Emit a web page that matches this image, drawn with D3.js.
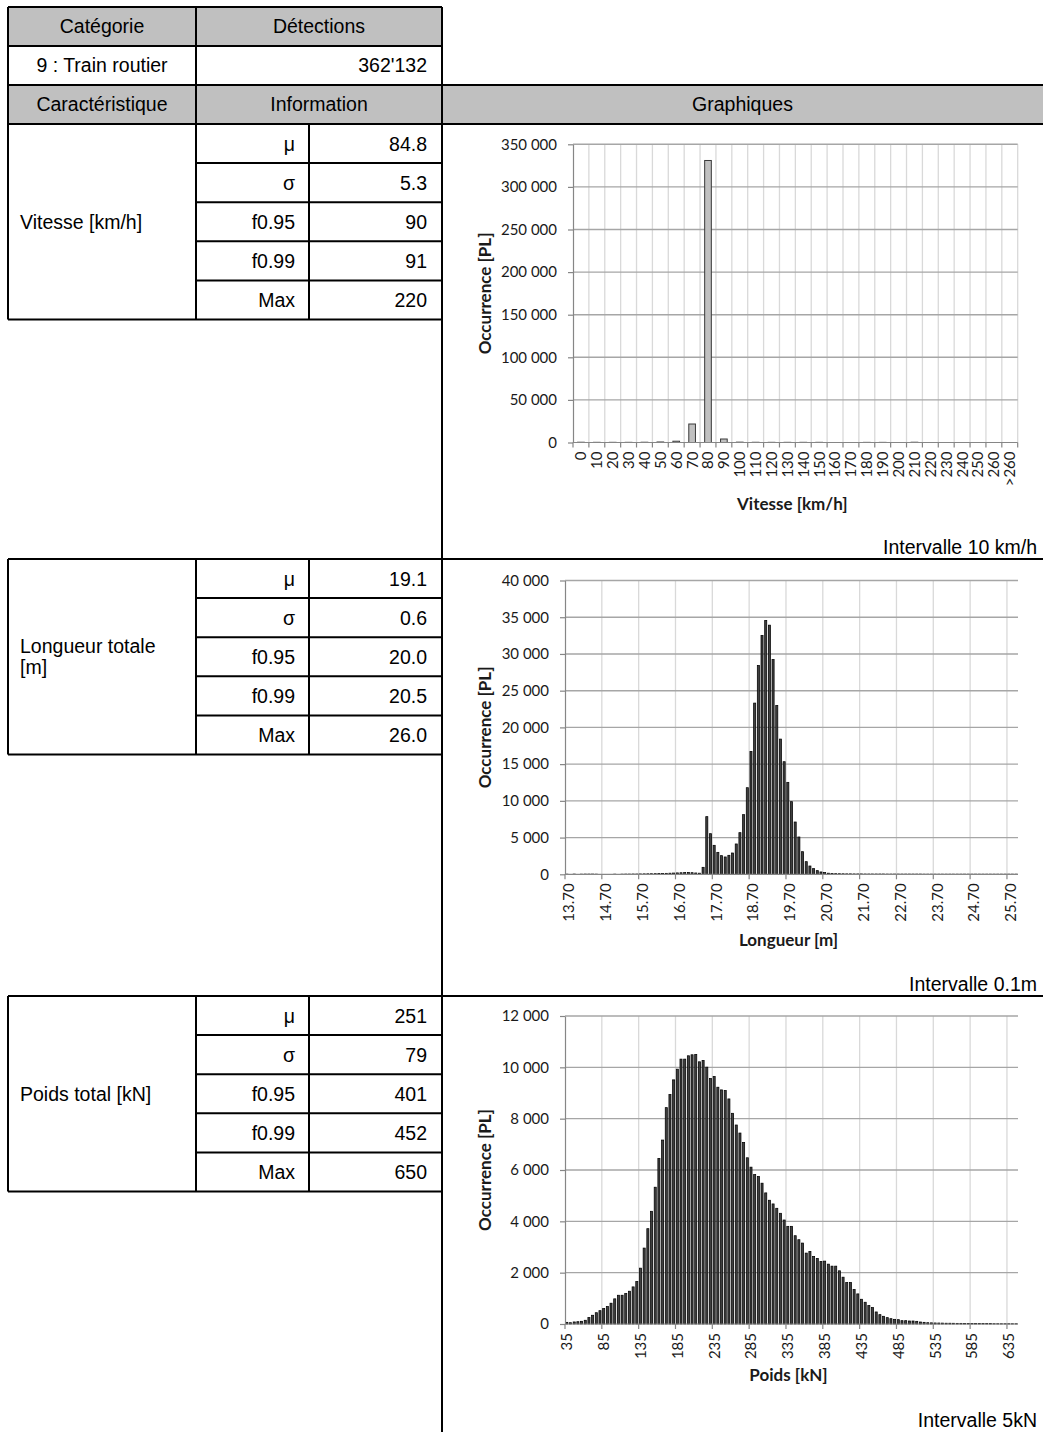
<!DOCTYPE html>
<html><head><meta charset="utf-8">
<script src="https://cdn.jsdelivr.net/npm/d3@7"></script>
<style>body{margin:0;background:#fff} svg{display:block}</style>
</head><body>
<svg id="c" width="1043" height="1432"></svg>
<script>
// ---------- DATA ----------
const headerCategory = "Catégorie";
const headerDetections = "Détections";
const categoryName = "9 : Train routier";
const detections = "362'132";
const headerCharac = "Caractéristique";
const headerInfo = "Information";
const headerGraph = "Graphiques";
const statLabels = ["μ","σ","f0.95","f0.99","Max"];
const sectionNames = [["Vitesse [km/h]"],["Longueur totale","[m]"],["Poids total [kN]"]];
const speedStats = ["84.8","5.3","90","91","220"];
const lengthStats = ["19.1","0.6","20.0","20.5","26.0"];
const weightStats = ["251","79","401","452","650"];
const intervals = ["Intervalle 10 km/h","Intervalle 0.1m","Intervalle 5kN"];

const speedCats = ["0","10","20","30","40","50","60","70","80","90","100","110","120","130","140","150","160","170","180","190","200","210","220","230","240","250","260",">260"];
const speedValues = [300,200,200,200,300,600,1500,21700,331000,4100,400,250,200,200,200,200,0,0,150,150,0,300,0,0,0,0,0,0];
const speedYTicks = [0,50000,100000,150000,200000,250000,300000,350000];

// length bins of 0.1 m starting at 13.70 (123 bins)
const lengthValues = [20,0,30,0,20,30,30,30,20,0,
  0,0,0,20,0,20,30,30,40,40,
  50,60,70,80,90,100,110,130,150,170,
  190,210,230,240,220,180,150,950,7850,5530,
  3945,2990,2540,2360,2585,2900,4130,5670,8120,11790,
  16730,23310,28430,32520,34560,33920,29250,22990,18410,15330,
  12520,9890,7120,5080,3080,1720,1130,770,500,320,
  230,150,110,90,80,70,60,60,50,50,
  50,40,40,40,40,40,40,30,30,30,
  30,30,30,30,30,30,30,20,20,20,
  20,20,20,20,20,20,20,20,20,20,
  20,20,20,20,20,20,20,20,20,20,
  20,20,20];
const lengthTickLabels = ["13.70","14.70","15.70","16.70","17.70","18.70","19.70","20.70","21.70","22.70","23.70","24.70","25.70"];
const lengthYTicks = [0,5000,10000,15000,20000,25000,30000,35000,40000];

// weight bins of 5 kN starting at 35 (123 bins)
const weightValues = [65,50,80,90,105,145,250,340,440,520,
  600,680,810,980,1120,1120,1185,1277,1446,1655,
  2176,2958,3714,4391,5329,6450,7167,8430,8939,9512,
  9929,10320,10320,10450,10489,10502,10215,10268,10007,9564,
  9642,9225,9121,9095,8769,8209,7753,7440,7075,6476,
  6111,5824,5746,5486,5108,4821,4678,4508,4313,4052,
  3805,3805,3440,3284,3153,2762,2827,2632,2554,2437,
  2450,2332,2254,2254,2072,1824,1616,1616,1342,1173,
  964,847,717,638,469,365,300,248,208,182,
  169,130,130,117,117,104,78,65,50,45,
  40,38,35,30,30,28,25,25,22,20,
  20,18,18,15,15,15,12,12,10,10,
  10,10,10];
const weightTickLabels = ["35","85","135","185","235","285","335","385","435","485","535","585","635"];
const weightYTicks = [0,2000,4000,6000,8000,10000,12000];

const yTitle = "Occurrence [PL]";
const xTitles = ["Vitesse [km/h]","Longueur [m]","Poids [kN]"];

// ---------- LAYOUT ----------
const svg = d3.select("#c");
const TF = "'Liberation Sans', Arial, sans-serif";
const CF = "Lato, 'Open Sans', sans-serif";
const TS = 19.5;
const L = 8, C1 = 196, C2 = 309, C3 = 442, R = 1043;
const rowH = 39.1;
const sectionTops = [124, 559, 996];
const sectionBottoms = [559, 996, 1432];

function ln(x1,y1,x2,y2,w){
  svg.append("line").attr("x1",x1).attr("y1",y1).attr("x2",x2).attr("y2",y2)
    .attr("stroke","#000").attr("stroke-width",w||2);
}
function txt(x,y,s,anchor,opts){
  opts = opts||{};
  return svg.append("text").attr("x",x).attr("y",y).text(s)
    .attr("text-anchor",anchor||"start")
    .attr("font-family",opts.font||TF)
    .attr("font-size",opts.size||TS)
    .attr("font-weight",opts.weight||"normal")
    .attr("fill",opts.fill||"#000");
}

// gray header fills
svg.append("rect").attr("x",L).attr("y",7).attr("width",C3-L).attr("height",39).attr("fill","#c0c0c0");
svg.append("rect").attr("x",L).attr("y",85).attr("width",R-L).attr("height",39).attr("fill","#c0c0c0");

// header texts
txt((L+C1)/2, 33, headerCategory, "middle");
txt((C1+C3)/2, 33, headerDetections, "middle");
txt((L+C1)/2, 72, categoryName, "middle");
txt(427, 72, detections, "end");
txt((L+C1)/2, 111, headerCharac, "middle");
txt((C1+C3)/2, 111, headerInfo, "middle");
txt((C3+R)/2, 111, headerGraph, "middle");

// header lines
ln(L,7,C3,7); ln(L,46,C3,46); ln(L,85,R,85); ln(L,124,R,124);
ln(L,7,L,124); ln(C1,7,C1,124); ln(C3,7,C3,1432);

const allStats = [speedStats, lengthStats, weightStats];
sectionTops.forEach((T,s)=>{
  const B = T + 5*rowH;
  if (s>0) ln(L,T,R,T);
  ln(L,B,C3,B);
  ln(L,T,L,B); ln(C1,T,C1,B); ln(C2,T,C2,B);
  for (let k=1;k<5;k++) ln(C1,T+k*rowH,C3,T+k*rowH);
  statLabels.forEach((lab,k)=>{
    const cy = T + (k+0.5)*rowH + 7;
    txt(295, cy, lab, "end");
    txt(427, cy, allStats[s][k], "end");
  });
  const names = sectionNames[s];
  const mid = T + 2.5*rowH;
  names.forEach((n,j)=>{
    const by = mid + 7 + (j - (names.length-1)/2)*21;
    txt(20, by, n, "start");
  });
  txt(1037, sectionBottoms[s]-5, intervals[s], "end");
});

// ---------- CHARTS ----------
const fmtLocale = d3.formatLocale({decimal:".", thousands:"\u00a0", grouping:[3], currency:["",""]});
const fmt = fmtLocale.format(",d");

function drawChart(cfg){
  const n = cfg.values.length;
  const idx = d3.range(n);
  const x = d3.scaleBand().domain(idx).range([cfg.left, cfg.right]).padding(0);
  const y = d3.scaleLinear().domain([0, cfg.ymax]).range([cfg.bottom, cfg.top]);
  const g = svg.append("g");
  const bw = x.step();

  // vertical gridlines at category boundaries
  const bounds = d3.range(cfg.gridEvery, n+1, cfg.gridEvery).filter(k=>k<=n);
  const bx = k => cfg.left + k*bw;
  g.selectAll(".vg").data(bounds).join("line")
    .attr("x1",k=>bx(k)).attr("x2",k=>bx(k))
    .attr("y1",y(cfg.ymax)).attr("y2",cfg.bottom)
    .attr("stroke","#d9d9d9").attr("stroke-width",1.3);
  // horizontal gridlines
  g.selectAll(".hg").data(cfg.yticks.filter(v=>v>0)).join("line")
    .attr("x1",cfg.left).attr("x2",cfg.right)
    .attr("y1",d=>y(d)).attr("y2",d=>y(d))
    .attr("stroke","#a6a6a6").attr("stroke-width",1.4);

  // bars
  g.selectAll(".bar").data(idx.filter(i=>cfg.values[i]>0)).join("rect")
    .attr("x",i=>x(i) + (bw - bw*cfg.barFrac)/2)
    .attr("width",bw*cfg.barFrac)
    .attr("y",i=>y(cfg.values[i]))
    .attr("height",i=>Math.max(0,cfg.bottom - y(cfg.values[i])))
    .attr("fill",cfg.fill).attr("stroke",cfg.stroke).attr("stroke-width",cfg.sw);

  // y axis
  const ya = g.append("g").attr("transform",`translate(${cfg.left},0)`)
    .call(d3.axisLeft(y).tickValues(cfg.yticks).tickSize(5).tickSizeOuter(0).tickPadding(11).tickFormat(fmt));
  ya.select(".domain").attr("stroke","#868686").attr("stroke-width",1.2);
  ya.selectAll(".tick line").attr("stroke","#868686").attr("stroke-width",1.2);
  ya.selectAll("text").attr("font-family",CF).attr("font-size",15).attr("fill","#1a1a1a");

  // x axis line + ticks at boundaries
  g.append("line").attr("x1",cfg.left).attr("x2",cfg.right)
    .attr("y1",cfg.bottom).attr("y2",cfg.bottom).attr("stroke","#868686").attr("stroke-width",1.2);
  g.selectAll(".xt").data([0].concat(bounds)).join("line")
    .attr("x1",k=>bx(k)).attr("x2",k=>bx(k))
    .attr("y1",cfg.bottom).attr("y2",cfg.bottom+5)
    .attr("stroke","#868686").attr("stroke-width",1.2);

  // x labels
  const lab = cfg.labelIdx.map((i,j)=>({i, t: cfg.labels[j]}));
  g.selectAll(".xl").data(lab).join("text")
    .attr("transform",d=>`translate(${x(d.i)+bw/2 + cfg.labelShift},${cfg.bottom+9}) rotate(-90)`)
    .attr("dy","0.36em")
    .attr("text-anchor","end")
    .attr("font-family",CF).attr("font-size",15).attr("fill","#1a1a1a")
    .text(d=>d.t);

  // titles
  g.append("text").attr("x",(cfg.left+cfg.right)/2 - 3).attr("y",cfg.xTitleY)
    .attr("text-anchor","middle").attr("font-family",CF).attr("font-weight","bold")
    .attr("font-size",17).attr("fill","#1a1a1a").text(cfg.xTitle);
  g.append("text")
    .attr("transform",`translate(485,${(y(cfg.ymax)+cfg.bottom)/2}) rotate(-90)`)
    .attr("dy","0.36em").attr("text-anchor","middle")
    .attr("font-family",CF).attr("font-weight","bold").attr("font-size",17).attr("fill","#1a1a1a")
    .text(yTitle);
}

drawChart({values:speedValues, left:573, right:1017.7, top:144.3, bottom:442.5, ymax:350000,
  yticks:speedYTicks, gridEvery:1, barFrac:0.42, fill:"#c0c0c0", stroke:"#3a3a3a", sw:1,
  labels:speedCats, labelIdx:d3.range(speedCats.length), labelShift:0, xTitle:xTitles[0], xTitleY:510});

drawChart({values:lengthValues, left:565, right:1018, top:580.5, bottom:874.3, ymax:40000,
  yticks:lengthYTicks, gridEvery:10, barFrac:0.56, fill:"#404040", stroke:"#000", sw:0.75,
  labels:lengthTickLabels, labelIdx:lengthTickLabels.map((d,j)=>j*10), labelShift:2, xTitle:xTitles[1], xTitleY:946});

drawChart({values:weightValues, left:565, right:1018, top:1016, bottom:1324, ymax:12000,
  yticks:weightYTicks, gridEvery:10, barFrac:0.56, fill:"#404040", stroke:"#000", sw:0.75,
  labels:weightTickLabels, labelIdx:weightTickLabels.map((d,j)=>j*10), labelShift:0, xTitle:xTitles[2], xTitleY:1381});
</script>
</body></html>
